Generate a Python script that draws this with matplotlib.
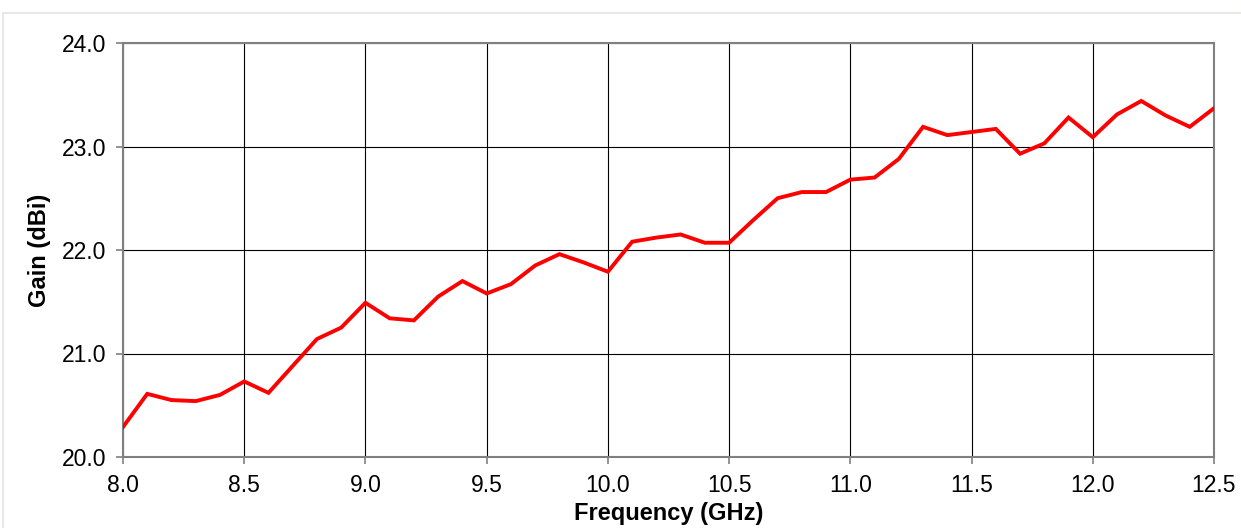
import matplotlib
matplotlib.use("Agg")
import matplotlib.pyplot as plt
from matplotlib.patches import Rectangle

# 频率 (GHz) 与增益 (dBi)
freq = [8.0, 8.1, 8.2, 8.3, 8.4, 8.5, 8.6, 8.7, 8.8, 8.9,
        9.0, 9.1, 9.2, 9.3, 9.4, 9.5, 9.6, 9.7, 9.8, 9.9,
        10.0, 10.1, 10.2, 10.3, 10.4, 10.5, 10.6, 10.7, 10.8, 10.9,
        11.0, 11.1, 11.2, 11.3, 11.4, 11.5, 11.6, 11.7, 11.8, 11.9,
        12.0, 12.1, 12.2, 12.3, 12.4, 12.5]
gain = [20.29, 20.61, 20.55, 20.54, 20.60, 20.73, 20.62, 20.88, 21.14, 21.25,
        21.49, 21.34, 21.32, 21.55, 21.70, 21.58, 21.67, 21.85, 21.96, 21.88,
        21.79, 22.08, 22.12, 22.15, 22.07, 22.07, 22.29, 22.50, 22.56, 22.56,
        22.68, 22.70, 22.88, 23.19, 23.11, 23.14, 23.17, 22.93, 23.03, 23.28,
        23.09, 23.31, 23.44, 23.30, 23.19, 23.37]

x_ticks = [8.0, 8.5, 9.0, 9.5, 10.0, 10.5, 11.0, 11.5, 12.0, 12.5]
y_ticks = [20.0, 21.0, 22.0, 23.0, 24.0]

plt.rcParams['font.family'] = ['Liberation Sans', 'DejaVu Sans']

fig = plt.figure(figsize=(12.41, 5.28), dpi=100)
ax = fig.add_axes([123 / 1241, 1 - 457 / 528, (1214 - 123) / 1241, (457 - 43) / 528])

# 外框
fig.patches.append(Rectangle((3 / 1241, -0.1), 1.2, 1 - 13 / 528 + 0.1,
                             transform=fig.transFigure, fill=False,
                             edgecolor='#dfe5df', lw=1.2, zorder=0))

ax.plot(freq, gain, color='#ff0000', lw=2.8, solid_joinstyle='miter', zorder=3)

ax.set_xlim(8.0, 12.5)
ax.set_ylim(20.0, 24.0)
ax.set_xticks(x_ticks)
ax.set_yticks(y_ticks)
ax.set_xticklabels([f"{v:.1f}" for v in x_ticks])
ax.set_yticklabels([f"{v:.1f}" for v in y_ticks])

ax.grid(True, color='black', lw=0.8)
ax.set_axisbelow(True)
for s in ax.spines.values():
    s.set_color('#808080')
    s.set_linewidth(1.5)
ax.tick_params(direction='out', length=5, width=1.2, color='#808080',
               labelsize=16.5, labelcolor='black')
ax.tick_params(axis='x', pad=7)
ax.tick_params(axis='y', pad=7)

ax.set_xlabel('Frequency (GHz)', fontsize=17, fontweight='bold', labelpad=4)
ax.set_ylabel('Gain (dBi)', fontsize=17, fontweight='bold', labelpad=8)

fig.savefig('out.png', dpi=100)
